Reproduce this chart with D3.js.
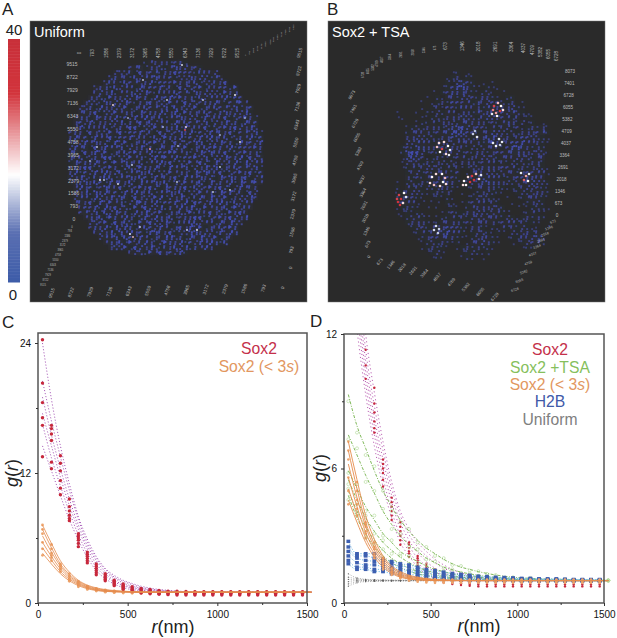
<!DOCTYPE html>
<html>
<head>
<meta charset="utf-8">
<script src="https://cdn.jsdelivr.net/npm/d3@7"></script>
<style>
    body { margin: 0; background: white; }
    svg { display: block; }
    text { font-family: "Liberation Sans", Arial, sans-serif; }
</style>
</head>
<body>
<svg id="svgMain" width="617" height="638"></svg>
<script>
// All values below.

// Radial bins (nm) for the markers, and knots for the fitted curves.
var rBins = [25,75,125,175,225,275,325,375,425,475,525,575,625,675,725,775,825,875,925,975,1025,1075,1125,1175,1225,1275,1325,1375,1425,1475];
var rFit = [25,75,125,175,225,275,325,375,425,475,525,575,625,675,725,775,825,875,975,1075,1275,1525];

var sox2Points = [
    [24.3,16.4,13.6,9.6,6.4,4.7,3.6,2.7,2.1,1.75,1.5,1.35,1.25,1.15,1.1,1.08,1.06,1.05,1.05,1.05,1.05,1.05,1.05,1.05,1.05,1.05,1.05,1.05,1.05,1.05],
    [20.3,16.1,12.9,8.9,6.2,4.5,3.4,2.6,2.0,1.65,1.4,1.25,1.15,1.1,1.05,1.02,1.0,1.0,1.0,1.0,1.0,1.0,1.0,1.0,1.0,1.0,1.0,1.0,1.0,1.0],
    [18.5,15.6,12.2,8.5,6.0,4.3,3.2,2.45,1.9,1.55,1.3,1.2,1.1,1.0,1.0,0.95,0.95,0.95,0.95,0.95,0.95,0.95,0.95,0.95,0.95,0.95,0.95,0.95,0.95,0.95],
    [17.1,15.0,11.3,8.1,5.8,4.1,3.0,2.3,1.8,1.45,1.25,1.1,1.0,0.95,0.92,0.9,0.9,0.9,0.9,0.9,0.9,0.9,0.9,0.9,0.9,0.9,0.9,0.9,0.9,0.9],
    [16.4,13.0,10.6,7.8,5.5,3.9,2.8,2.2,1.7,1.35,1.15,1.0,0.92,0.88,0.85,0.82,0.82,0.82,0.82,0.82,0.82,0.82,0.82,0.82,0.82,0.82,0.82,0.82,0.82,0.82],
    [13.5,12.4,10.0,7.6,5.2,3.7,2.6,2.05,1.6,1.25,1.05,0.92,0.85,0.8,0.77,0.74,0.74,0.74,0.74,0.74,0.74,0.74,0.74,0.74,0.74,0.74,0.74,0.74,0.74,0.74]
];
var sox2FitsC = [
    [24,18.8,14.5,11,8,5.9,4.3,3.2,2.55,2.1,1.8,1.55,1.38,1.25,1.17,1.1,1.06,1.03,1,1,1,1],
    [20.5,16.8,13.5,10.4,7.7,5.6,4.1,3.1,2.4,2,1.7,1.45,1.3,1.2,1.12,1.07,1.04,1.02,1,1,1,1],
    [19,15.5,12.4,9.6,7.2,5.3,3.9,2.9,2.3,1.85,1.55,1.35,1.22,1.13,1.08,1.04,1.02,1,1,1,1,1],
    [17.5,14.5,11.6,9,6.8,5,3.6,2.7,2.1,1.7,1.45,1.27,1.16,1.09,1.05,1.02,1,1,1,1,1,1],
    [16.5,13.4,10.8,8.4,6.3,4.6,3.3,2.5,1.95,1.6,1.35,1.2,1.1,1.05,1.02,1,1,1,1,1,1,1],
    [14.5,12.2,9.9,7.7,5.8,4.2,3,2.25,1.75,1.42,1.22,1.1,1.04,1.01,1,1,1,1,1,1,1,1]
];
var sox2FitsD = [
    [24,16,12,9.4,7.2,5.4,4.1,3.3,2.7,2.3,1.95,1.7,1.5,1.35,1.25,1.17,1.12,1.08,1.03,1,1,1],
    [21,15,11.3,8.8,6.8,5.1,3.9,3.05,2.5,2.1,1.8,1.55,1.4,1.25,1.17,1.1,1.06,1.03,1,1,1,1],
    [19,14.3,10.8,8.3,6.4,4.8,3.6,2.8,2.25,1.85,1.55,1.35,1.2,1.12,1.06,1.03,1,1,1,1,1,1],
    [18,13.6,10.3,7.9,6,4.5,3.3,2.55,2,1.65,1.4,1.2,1.1,1.04,1,1,1,1,1,1,1,1],
    [17,13,9.8,7.5,5.6,4.1,3,2.3,1.8,1.45,1.2,1.07,1,1,1,1,1,1,1,1,1,1],
    [16,12.2,9.3,7,5.2,3.8,2.7,2.1,1.6,1.3,1.1,1,1,1,1,1,1,1,1,1,1,1]
];

var shortPoints = [
    [7.2,5.4,3.6,2.7,2.0,1.55,1.35,1.2,1.12,1.08,1.06,1.05,1.05,1.05,1.05,1.05,1.05,1.05,1.05,1.05,1.05,1.05,1.05,1.05,1.05,1.05,1.05,1.05,1.05,1.05],
    [6.8,5.0,3.5,2.5,1.9,1.5,1.3,1.15,1.1,1.05,1.03,1.02,1.02,1.02,1.02,1.02,1.02,1.02,1.02,1.02,1.02,1.02,1.02,1.02,1.02,1.02,1.02,1.02,1.02,1.02],
    [6.4,4.6,3.4,2.4,1.8,1.4,1.25,1.12,1.05,1.02,1,1,1,1,1,1,1,1,1,1,1,1,1,1,1,1,1,1,1,1],
    [5.6,4.4,3.2,2.2,1.7,1.35,1.2,1.08,1.02,1,0.98,0.98,0.98,0.98,0.98,0.98,0.98,0.98,0.98,0.98,0.98,0.98,0.98,0.98,0.98,0.98,0.98,0.98,0.98,0.98],
    [5.0,4.2,3.1,2.1,1.6,1.3,1.15,1.05,1,0.97,0.95,0.95,0.95,0.95,0.95,0.95,0.95,0.95,0.95,0.95,0.95,0.95,0.95,0.95,0.95,0.95,0.95,0.95,0.95,0.95],
    [4.4,3.9,2.9,2.0,1.5,1.25,1.1,1,0.95,0.92,0.9,0.9,0.9,0.9,0.9,0.9,0.9,0.9,0.9,0.9,0.9,0.9,0.9,0.9,0.9,0.9,0.9,0.9,0.9,0.9]
];
var shortFits = [
    [7.2,5.5,3.9,2.85,2.1,1.65,1.4,1.24,1.15,1.09,1.05,1.03,1.02,1.01,1,1,1,1,1,1,1,1],
    [6.8,5.1,3.6,2.65,2,1.58,1.34,1.2,1.12,1.07,1.04,1.02,1.01,1,1,1,1,1,1,1,1,1],
    [6.2,4.7,3.4,2.5,1.9,1.5,1.28,1.16,1.09,1.05,1.03,1.01,1,1,1,1,1,1,1,1,1,1],
    [5.6,4.3,3.15,2.35,1.8,1.44,1.23,1.12,1.06,1.03,1.01,1,1,1,1,1,1,1,1,1,1,1],
    [5.1,3.95,2.9,2.2,1.7,1.38,1.19,1.09,1.04,1.02,1,1,1,1,1,1,1,1,1,1,1,1],
    [4.6,3.6,2.7,2.05,1.6,1.32,1.15,1.07,1.03,1.01,1,1,1,1,1,1,1,1,1,1,1,1]
];

var tsaFits = [
    [9.3,7.9,6.9,5.9,5.0,4.3,3.7,3.2,2.8,2.45,2.2,1.95,1.75,1.6,1.5,1.4,1.32,1.25,1.15,1.1,1.05,1.02],
    [7.5,6.6,5.7,4.9,4.1,3.5,3.0,2.6,2.3,2.0,1.8,1.6,1.48,1.38,1.3,1.24,1.18,1.14,1.08,1.05,1.02,1],
    [5.9,5.1,4.3,3.7,3.1,2.7,2.3,2.05,1.85,1.65,1.5,1.4,1.3,1.25,1.2,1.15,1.12,1.1,1.05,1.03,1,1],
    [5.5,4.6,3.8,3.2,2.7,2.35,2.05,1.8,1.6,1.45,1.35,1.27,1.2,1.15,1.12,1.1,1.07,1.05,1.03,1.02,1,1],
    [5,4.1,3.4,2.8,2.35,2,1.75,1.55,1.42,1.32,1.25,1.18,1.13,1.1,1.08,1.05,1.04,1.03,1.02,1,1,1],
    [4.8,3.8,3.05,2.5,2.1,1.8,1.58,1.42,1.3,1.22,1.15,1.1,1.07,1.05,1.03,1.02,1.01,1,1,1,1,1]
];
var tsaPoints = [
    [9,7.6,6.6,6.1,5,4.1,3.6,3.3,2.7,2.5,2.1,2,1.7,1.65,1.45,1.42,1.3,1.25,1.15,1.12,1.05,1.02],
    [7.3,6.9,5.4,5,4.2,3.3,3.1,2.5,2.4,1.95,1.85,1.55,1.5,1.35,1.32,1.2,1.2,1.12,1.1,1.04,1.02,1],
    [5.8,5.3,4.1,3.9,3,2.8,2.2,2.1,1.8,1.7,1.45,1.42,1.28,1.27,1.18,1.16,1.1,1.1,1.05,1.02,1,1],
    [5.3,4.4,3.9,3.1,2.8,2.2,2.1,1.75,1.65,1.4,1.38,1.25,1.22,1.12,1.13,1.08,1.08,1.04,1.03,1,1,1],
    [5.1,4,3.5,2.7,2.4,1.9,1.8,1.5,1.45,1.3,1.27,1.15,1.15,1.08,1.1,1.04,1.05,1.02,1,1,1,1],
    [4.6,3.9,2.9,2.6,2,1.85,1.5,1.45,1.25,1.25,1.12,1.12,1.05,1.06,1.02,1.03,1,1,1,1,1,1]
];

var h2bPoints = [
    [2.75,2.2,2.2,2.2,1.95,1.85,1.75,1.7,1.6,1.5,1.45,1.38,1.32,1.28,1.24,1.2,1.18,1.15,1.14,1.12,1.1,1.1,1.08,1.08,1.08,1.06,1.05,1.05,1.05,1.05],
    [2.5,2.1,2.1,2.0,1.85,1.75,1.65,1.6,1.5,1.42,1.36,1.3,1.26,1.22,1.18,1.15,1.14,1.12,1.1,1.1,1.08,1.08,1.06,1.05,1.05,1.05,1.04,1.04,1.03,1.03],
    [2.3,2.0,1.9,1.85,1.7,1.6,1.55,1.45,1.4,1.35,1.28,1.22,1.2,1.15,1.12,1.1,1.09,1.08,1.07,1.06,1.05,1.05,1.04,1.04,1.03,1.03,1.02,1.02,1.02,1.02],
    [2.1,1.8,1.7,1.7,1.6,1.5,1.45,1.4,1.3,1.25,1.2,1.15,1.13,1.1,1.08,1.06,1.05,1.05,1.04,1.03,1.03,1.02,1.02,1.02,1.01,1.01,1,1,1,1],
    [1.9,1.6,1.6,1.5,1.5,1.4,1.35,1.3,1.22,1.18,1.15,1.1,1.08,1.05,1.03,1.02,1.02,1.01,1.01,1,1,1,1,1,1,1,1,1,1,1],
    [1.75,1.5,1.5,1.4,1.4,1.3,1.25,1.2,1.15,1.1,1.08,1.05,1.03,1.02,1,1,1,1,1,1,0.98,0.98,0.98,0.98,0.98,0.98,0.98,0.98,0.98,0.98]
];

// Uniform stays near 1; only the first bins scatter.
var uniformPoints = [
    [1.3,1.12,1.06,1.04,1.03,1.02,1.02,1.02,1.02,1.01,1.01,1.01],
    [1.15,1.08,1.04,1.02,1.02,1.01,1.01,1.01,1.01,1.01,1,1],
    [1.05,1.03,1.02,1.01,1,1,1,1,1,1,1,1],
    [0.95,1,1,1,1,1,1,1,1,1,1,1],
    [0.85,0.95,0.98,0.98,0.99,0.99,0.99,1,1,1,1,1],
    [0.75,0.9,0.95,0.96,0.97,0.98,0.98,0.98,0.99,0.99,0.99,0.99]
];

// 3D panel tick labels.
var uniformTicks = ["0","793","1586","2379","3172","3965","4758","5550","6343","7136","7929","8722","9515"];
var tsaTicks = ["0","673","1346","2018","2691","3364","4037","4709","5382","6055","6728","7401","8073"];

// Estimated local spot density (0-9) on a 5 px grid over each rendered image.
// The single spots cannot be read one by one, so the digits only give the
// coarse density and the dots inside a cell do not match the real spots.
var uniformDensity = [
    "000000000000000233432352",
    "000000000000345243524635342",
    "000000000343526345243654325434",
    "0000000045342635464352436354253",
    "00000003542645346254364536243536",
    "0000034526354263546352645362435426",
    "0000045362435546325436452635432645",
    "00004352643546352645736452635436254",
    "000354263546324563546326453546324563",
    "0034526435462536453627354625364536245",
    "0045362546354263546537264536425635462",
    "03542635462536475362546354263546253642",
    "04536243546253746354263645362536452635",
    "03625436245376254635472635462536475364",
    "354263546372546352645374625364536245362",
    "463526437254635426375462536475362453625",
    "253646352746253647352645376254635264536",
    "364526375462536452637546253647536254364",
    "452637462536475362547635246375462536452",
    "536245376254635247563625473625463572645",
    "263546352746536254736254637526435627354",
    "354762536425637546327546253647253645362",
    "462536473562546372546354263754625364725",
    "536425376254637526453627546352637456235",
    "245637526453726546372546357264536274563",
    "03645237546253647526354726536475236453",
    "05362746352647536254637254635274635264",
    "03542653647526354672536425637546235463",
    "0453627463524675362546372653647526354",
    "0035462736452637546253647526354627354",
    "004536274635264753625463725463526473",
    "000354627536425637546235476253647536",
    "00004536274652637546325476354263754",
    "0000354627365247536425637462536475",
    "0000045362736452675362547635426375",
    "000000354627536425376452637546253",
    "00000003546273564237546253647526",
    "00000000354627536425374625364",
    "000000000000345263745362"
];
var tsaDensity = [
    "000000000000001201000000000000000000",
    "000000000000012302100000000000000000",
    "000000000000021453201010000000000000",
    "000000000000124674210211000000000000",
    "000000000010235453212310100000000000",
    "000000000102134243324321022000000000",
    "000000001012325434253443323010000000",
    "000000001023143254332544344210000000",
    "000100010213243143253442535321000000",
    "000110001123234354324543342412100000",
    "000000012232433245343232354231201000",
    "000001232343245675343232342312323100",
    "000002343323456764323454323234345200",
    "000003443232345543234664342354432100",
    "000004354324334434332564235464332100",
    "000023265432324332323343246753232000",
    "000026764232243423243234345543343100",
    "000015653123212342334342343434234000",
    "000013432323323134323432323232342000",
    "000012323434232312434543434232332100",
    "000002342323432401343432334234343100",
    "000003232344343201345543223435443000",
    "000102323234554202345654332334543200",
    "000203232323432101234432212234332100",
    "000123432123231010123322101232343200",
    "000234321012121001234321010123432100",
    "000234311011021012343232001012332000",
    "000123210101012102334334200101232100",
    "000112121000123223443233210012321000",
    "000012332101223232343343232123232000",
    "000002343212344323234332343232210000",
    "000000233232454321342121323232110100",
    "000000123234564320234212103234230000",
    "000000012343453211234421012243454000",
    "000000001232321201345321001123342000",
    "000000001232210123232210000012100000",
    "000000000123100012321200000000000000",
    "000000000012100012101000000000000000"
];

// Brighter spots [x, y, density value on the colour bar], x and y in image pixels.
var uniformHot = [[155,109,30],[156,106,20],[190,114,12],[83,84,20],[205,74,18],[70,159,16],[74,159,14],[103,216,22],[100,213,16],[200,169,14],[167,209,16],[157,209,14],[88,163,16],[137,79,14],[152,44,16],[210,121,16],[183,171,14],[147,161,14],[102,144,14],[67,126,14],[110,206,14],[173,79,14],[190,146,14],[113,59,14],[133,106,13],[98,97,12],[148,125,13],[120,128,25],[215,97,12],[60,140,12]];
var tsaHot = [
    [170,82,22],[166,85,30],[173,85,18],[165,89,26],[172,90,32],[168,92,24],[175,89,20],[169,95,18],[164,93,16],
    [111,122,20],[116,121,20],[120,125,18],[109,126,22],[122,129,16],[112,131,18],[118,133,20],[114,128,30],[121,134,16],
    [145,113,14],[149,116,16],[147,110,13],
    [165,122,16],[171,118,15],[174,121,16],[168,125,17],[172,124,14],
    [104,156,18],[108,153,20],[114,153,18],[117,157,22],[102,162,20],[106,164,22],[112,165,20],[118,163,20],[115,161,17],
    [136,160,18],[140,156,20],[144,155,32],[148,153,22],[151,158,20],[146,159,36],[142,161,32],[138,164,18],[153,154,16],[135,164,20],
    [193,152,16],[198,155,24],[201,153,16],[196,159,28],[200,160,18],
    [71,174,30],[73,178,36],[70,181,34],[76,172,18],[78,176,16],[72,184,32],[69,178,30],[75,182,20],
    [108,205,15],[111,208,14],[106,209,15],[110,212,14]
];

// Sub-cell slots (fraction of a grid cell) for the speckle dots.
var speckleSlots = [[0.06,0.04],[0.58,0.26],[0.24,0.62],[0.02,0.34],[0.56,0.66],[0.64,0.02],[0.3,0.2]];

var svgMain = d3.select("#svgMain");
var defs = svgMain.append("defs");
defs.append("filter").attr("id", "soften").append("feGaussianBlur").attr("stdDeviation", 1.5);
defs.append("filter").attr("id", "softenSpots").append("feGaussianBlur").attr("stdDeviation", 0.45);

// Colour bar scale: blue - white - red.
var densityColor = d3.scaleLinear()
    .domain([0, 8, 17.6, 31, 40])
    .range(["#3d5ca8", "#5a6fb2", "#ffffff", "#d2343c", "#c8303a"]);

function addText (x, y, string, size, fill, anchor) {
    return svgMain.append("text")
        .attr("x", x).attr("y", y)
        .attr("font-size", size)
        .attr("fill", fill || "black")
        .attr("text-anchor", anchor || "start")
        .text(string);
}

// Draw the vertical colour bar.
function drawColorBar () {
    let barScale = d3.scaleLinear().domain([0, 40]).range([282, 39]);
    let steps = d3.range(0, 40, 0.25);
    svgMain.append("g").selectAll("rect").data(steps).join("rect")
        .attr("x", 8).attr("width", 12)
        .attr("y", d => barScale(d + 0.25))
        .attr("height", d => barScale(d) - barScale(d + 0.25) + 0.5)
        .attr("fill", d => densityColor(d));
    addText(14, 35, "40", 15, "#222", "middle");
    addText(13, 300, "0", 15, "#222", "middle");
}

// Place a row of tick labels along a bent path through the given knots.
function placeLabels (group, labels, xKnots, yKnots, angle, size) {
    let t = labels.map((d, i) => i / (labels.length - 1));
    let knots = xKnots.map((d, i) => i / (xKnots.length - 1));
    let xs = d3.scaleLinear().domain(knots).range(xKnots);
    let ys = d3.scaleLinear().domain(knots).range(yKnots);
    group.selectAll(null).data(labels).join("text")
        .attr("transform", (d, i) => "translate(" + xs(t[i]) + "," + ys(t[i]) + ") rotate(" + angle + ")")
        .attr("text-anchor", "middle")
        .attr("dominant-baseline", "middle")
        .attr("font-size", size)
        .attr("fill", "#bdbdbd")
        .text(d => d);
}

// Draw one dark 3D rendering panel.
function drawVolumePanel (left, title, density, hot, gridX, gridY, hotRadius) {
    let x = d3.scaleLinear().domain([0, 277]).range([left, left + 277]);
    let y = d3.scaleLinear().domain([0, 281]).range([21, 302]);
    svgMain.append("rect")
        .attr("x", x(0)).attr("y", y(0))
        .attr("width", 277).attr("height", 281)
        .attr("fill", "#2a2a2a").attr("stroke", "#777").attr("stroke-width", 0.5);

    let cols = d3.max(density, d => d.length);
    let cells = [];
    density.forEach((row, r) => {
        row.split("").forEach((c, k) => {
            if (c !== "0") cells.push({ r: r, k: k, v: +c });
        });
    });
    let bandX = d3.scaleBand().domain(d3.range(cols)).range([x(gridX), x(gridX + cols * 5)]);
    let bandY = d3.scaleBand().domain(d3.range(density.length)).range([y(gridY), y(gridY + density.length * 5)]);
    let cellSize = bandX.bandwidth();

    // Faint glow under the dots.
    svgMain.append("g").attr("filter", "url(#soften)")
        .selectAll("rect").data(cells).join("rect")
        .attr("x", d => bandX(d.k)).attr("y", d => bandY(d.r))
        .attr("width", cellSize).attr("height", bandY.bandwidth())
        .attr("fill", "#3c46a8")
        .attr("opacity", d => d.v / 50);

    // One dot per density step pair; the slot only breaks up the regular grid.
    let dots = [];
    cells.forEach(d => {
        let count = Math.ceil(d.v / 2.5);
        for (let n = 0; n < count; n++) {
            let slot = speckleSlots[(d.v + n * 3 + d.k + d.r * 2) % speckleSlots.length];
            dots.push({ r: d.r, k: d.k, s: slot, v: d.v });
        }
    });
    svgMain.append("g").attr("filter", "url(#softenSpots)")
        .selectAll("rect").data(dots).join("rect")
        .attr("x", d => bandX(d.k) + d.s[0] * cellSize)
        .attr("y", d => bandY(d.r) + d.s[1] * cellSize)
        .attr("width", 1.9).attr("height", 1.9)
        .attr("fill", "#4650bc")
        .attr("opacity", d => 0.4 + d.v / 14);

    svgMain.append("g").attr("filter", "url(#softenSpots)")
        .selectAll("circle").data(hot).join("circle")
        .attr("cx", d => x(d[0])).attr("cy", d => y(d[1]))
        .attr("r", hotRadius)
        .attr("fill", d => densityColor(d[2]));
    addText(x(0) + 4, 37, title, 14.5, "white");
}

// Build the frame, axes and helpers for one g(r) plot.
function makePlot (frame, yMax, yMajor, yMinor, clipId) {
    let x = d3.scaleLinear().domain([0, 1500]).range([frame.left, frame.right]);
    let y = d3.scaleLinear().domain([0, yMax]).range([frame.bottom, frame.top]);
    defs.append("clipPath").attr("id", clipId).append("rect")
        .attr("x", frame.left).attr("y", frame.top)
        .attr("width", frame.right - frame.left + 10)
        .attr("height", frame.bottom - frame.top);
    let g = svgMain.append("g");
    let plot = g.append("g").attr("clip-path", "url(#" + clipId + ")");

    g.append("rect")
        .attr("x", frame.left).attr("y", frame.top)
        .attr("width", frame.right - frame.left).attr("height", frame.bottom - frame.top)
        .attr("fill", "none").attr("stroke", "#555").attr("stroke-width", 1.5);

    let axisX = d3.axisBottom(x).tickValues([0, 500, 1000, 1500]).tickSize(3).tickFormat(d3.format("d"));
    let axisY = d3.axisLeft(y).tickValues(yMajor).tickSize(3).tickFormat(d3.format("d"));
    let xAxisG = g.append("g").attr("transform", "translate(0," + frame.bottom + ")").call(axisX);
    let yAxisG = g.append("g").attr("transform", "translate(" + frame.left + ",0)").call(axisY);
    g.append("g").attr("transform", "translate(0," + frame.bottom + ")")
        .call(d3.axisBottom(x).tickValues([250, 750, 1250]).tickSize(2).tickFormat(""));
    g.append("g").attr("transform", "translate(" + frame.left + ",0)")
        .call(d3.axisLeft(y).tickValues(yMinor).tickSize(2).tickFormat(""));
    g.selectAll(".domain").remove();
    g.selectAll(".tick line").attr("stroke", "#333");
    xAxisG.selectAll("text").attr("font-size", 10).attr("fill", "#111").attr("dy", "0.9em");
    yAxisG.selectAll("text").attr("font-size", 10).attr("fill", "#111").attr("dx", "-1px");
    xAxisG.attr("font-family", null);
    yAxisG.attr("font-family", null);
    return { x: x, y: y, plot: plot };
}

// Draw the curves of a group from one list of arrays.
function drawCurves (p, xs, rows, color, width, dash) {
    let line = d3.line()
        .x((d, i) => p.x(xs[i]))
        .y(d => p.y(d))
        .curve(d3.curveMonotoneX);
    p.plot.append("g").selectAll("path").data(rows).join("path")
        .attr("d", d => line(d))
        .attr("fill", "none")
        .attr("stroke", color)
        .attr("stroke-width", width)
        .attr("stroke-dasharray", dash || null);
}

function drawDots (p, xs, rows, color, radius, hollow) {
    let flat = [];
    rows.forEach(row => row.forEach((v, i) => flat.push([xs[i], v])));
    p.plot.append("g").selectAll("circle").data(flat).join("circle")
        .attr("cx", d => p.x(d[0])).attr("cy", d => p.y(d[1]))
        .attr("r", radius)
        .attr("fill", hollow ? "none" : color)
        .attr("stroke", hollow ? color : "none")
        .attr("stroke-width", 0.7);
}

function drawSquares (p, xs, rows, color, w, h) {
    let flat = [];
    rows.forEach(row => row.forEach((v, i) => flat.push([xs[i], v])));
    p.plot.append("g").selectAll("rect").data(flat).join("rect")
        .attr("x", d => p.x(d[0]) - w / 2).attr("y", d => p.y(d[1]) - h / 2)
        .attr("width", w).attr("height", h)
        .attr("fill", color);
}

function axisTitles (xCenter, xBase, yX, yCenter) {
    let xt = svgMain.append("text").attr("x", xCenter).attr("y", xBase)
        .attr("text-anchor", "middle").attr("font-size", 18).attr("fill", "#222");
    xt.append("tspan").attr("font-style", "italic").text("r");
    xt.append("tspan").text("(nm)");
    let yt = svgMain.append("text")
        .attr("transform", "translate(" + yX + "," + yCenter + ") rotate(-90)")
        .attr("text-anchor", "middle").attr("font-size", 18).attr("fill", "#222");
    yt.append("tspan").attr("font-style", "italic").text("g");
    yt.append("tspan").text("(");
    yt.append("tspan").attr("font-style", "italic").text("r");
    yt.append("tspan").text(")");
}

function shortLabel (x, y, anchor, size) {
    let t = svgMain.append("text").attr("x", x).attr("y", y)
        .attr("text-anchor", anchor).attr("font-size", size).attr("fill", "#e2975f");
    t.append("tspan").text("Sox2 (< 3");
    t.append("tspan").attr("font-style", "italic").text("s");
    t.append("tspan").text(")");
}

// Panel letters.
addText(2, 15, "A", 17, "#222");
addText(327, 15, "B", 17, "#222");
addText(2, 328, "C", 17, "#222");
addText(310, 327, "D", 17, "#222");

drawColorBar();
drawVolumePanel(30, "Uniform", uniformDensity, uniformHot, 38, 39, 0.9);
drawVolumePanel(328, "Sox2 + TSA", tsaDensity, tsaHot, 52, 49, 1.3);

// Tick labels around panel A.
var labelsA = svgMain.append("g");
placeLabels(labelsA, uniformTicks, [80, 238], [53, 53], -90, 4.6);
placeLabels(labelsA, uniformTicks.slice().reverse(), [72, 74], [65, 220], 0, 5);
placeLabels(labelsA, uniformTicks.slice().reverse(), [52, 283], [293, 288], -72, 4.6);
placeLabels(labelsA, uniformTicks, [291, 300], [268, 53], -75, 4.6);
placeLabels(labelsA, uniformTicks, [245, 270, 293], [55, 42, 27], -90, 2.4);
placeLabels(labelsA, uniformTicks, [72, 58, 43], [227, 255, 285], 0, 2.6);

// Tick labels around panel B.
var labelsB = svgMain.append("g");
placeLabels(labelsB, tsaTicks.slice().reverse(), [570, 566, 557], [72, 144, 216], 0, 4.6);
placeLabels(labelsB, tsaTicks.slice(1, 11), [446, 520, 557], [46, 47, 56], -90, 4.6);
placeLabels(labelsB, tsaTicks.slice(1, 11), [435, 385, 363], [48, 58, 75], -90, 2.8);
placeLabels(labelsB, tsaTicks.slice().reverse(), [352, 362, 369], [95, 180, 257], -62, 4.4);
placeLabels(labelsB, tsaTicks.slice(1, 11), [380, 430, 495], [262, 275, 297], -50, 4.4);
placeLabels(labelsB, tsaTicks.slice(1, 11), [553, 535, 515], [222, 250, 290], -20, 3.6);

// Panel C.
var plotC = makePlot({ left: 38, right: 307, top: 333, bottom: 603 }, 270 / (130 / 12), [0, 12, 24], [6, 18], "clipC");
drawCurves(plotC, rFit, sox2FitsC, "#a85cb8", 1, "1.1 2");
drawDots(plotC, rBins, shortPoints, "#eda56e", 1.4);
drawDots(plotC, rBins, sox2Points, "#c7283c", 1.7);
drawCurves(plotC, rFit, shortFits, "#e58c4e", 0.8);
addText(259, 354, "Sox2", 15.7, "#c4304a", "middle");
shortLabel(259, 372, "middle", 15.7);
axisTitles(173, 633, 18, 473);

// Panel D.
var plotD = makePlot({ left: 344, right: 604, top: 334, bottom: 603 }, 12, [0, 6, 12], [3, 9], "clipD");
drawCurves(plotD, rFit, sox2FitsD, "#b04aa8", 0.9, "1.1 2.8");
drawDots(plotD, rBins, sox2Points, "#c7283c", 1.2);
drawDots(plotD, rFit, tsaPoints, "#b9dca2", 1.5, true);
drawCurves(plotD, rFit, tsaFits, "#7fb95a", 1, "3 1.5 1 1.5");
drawCurves(plotD, rBins, h2bPoints, "#68b6e4", 0.9, "1.2 1.5");
drawSquares(plotD, rBins, h2bPoints, "#3d5fb0", 3.8, 3.4);
drawDots(plotD, rBins.slice(0, 12), uniformPoints, "#555", 0.6);
drawCurves(plotD, rBins.slice(0, 12), uniformPoints, "#666", 0.5, "1 1.5");
drawDots(plotD, rBins, shortPoints, "#eda56e", 1.3);
drawCurves(plotD, rFit, shortFits, "#e58c4e", 0.9);
addText(550, 355, "Sox2", 15.7, "#c4304a", "middle");
addText(550, 373, "Sox2 +TSA", 15.7, "#86bf5c", "middle");
shortLabel(550, 390, "middle", 15.7);
addText(550, 407, "H2B", 15.7, "#3f5aa8", "middle");
addText(550, 425, "Uniform", 15.7, "#808080", "middle");
axisTitles(479, 632, 326, 468);
</script>
</body>
</html>
